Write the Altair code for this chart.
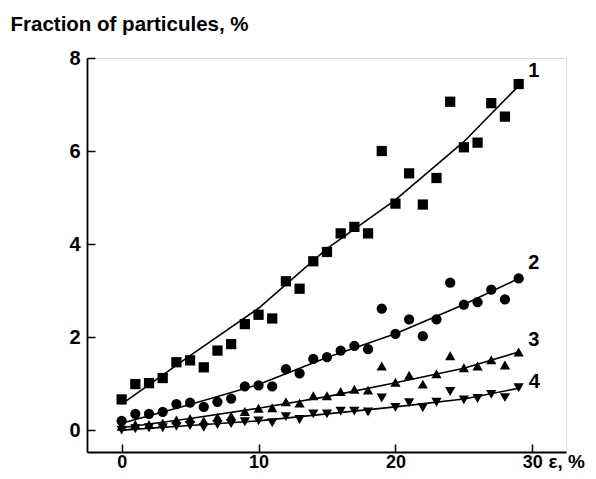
import altair as alt
import pandas as pd

# ---- data ----
eps = list(range(30))
s1 = [0.66, 0.99, 1.01, 1.12, 1.46, 1.50, 1.35, 1.71, 1.85, 2.28, 2.48, 2.40, 3.20, 3.04, 3.63,
      3.83, 4.23, 4.37, 4.23, 6.00, 4.87, 5.52, 4.85, 5.42, 7.06, 6.08, 6.18, 7.03, 6.74, 7.44]
s2 = [0.20, 0.35, 0.35, 0.39, 0.56, 0.59, 0.50, 0.61, 0.68, 0.94, 0.96, 0.94, 1.31, 1.22, 1.53,
      1.57, 1.71, 1.81, 1.74, 2.61, 2.07, 2.38, 2.02, 2.38, 3.17, 2.70, 2.75, 3.02, 2.81, 3.26]
s3 = [0.08, 0.12, 0.12, 0.15, 0.22, 0.25, 0.20, 0.28, 0.30, 0.40, 0.47, 0.48, 0.61, 0.58, 0.74,
      0.74, 0.83, 0.88, 0.86, 1.38, 1.03, 1.18, 0.99, 1.21, 1.60, 1.34, 1.38, 1.51, 1.40, 1.68]
s4 = [0.00, 0.03, 0.05, 0.05, 0.08, 0.10, 0.06, 0.12, 0.14, 0.18, 0.20, 0.16, 0.29, 0.23, 0.35,
      0.35, 0.41, 0.41, 0.39, 0.69, 0.49, 0.59, 0.48, 0.60, 0.83, 0.65, 0.68, 0.77, 0.70, 0.91]

fit_x = [0, 5, 10, 15, 20, 25, 29]
f1 = [0.56, 1.60, 2.62, 3.90, 4.95, 6.20, 7.40]
f2 = [0.15, 0.55, 0.98, 1.56, 2.07, 2.70, 3.26]
f3 = [0.05, 0.25, 0.47, 0.72, 1.02, 1.33, 1.68]
f4 = [0.00, 0.10, 0.20, 0.35, 0.50, 0.67, 0.90]

series_names = ["1", "2", "3", "4"]
label_x = [30.1, 30.1, 30.1, 30.15]
label_y = [7.72, 3.60, 1.93, 1.04]

x_ticks = [0, 10, 20, 30]
y_ticks = [0, 2, 4, 6, 8]
x_domain = [-2.53, 32.46]
y_domain = [-0.47, 8.0]

# ---- tables ----
pts = pd.DataFrame({
    "eps": eps * 4,
    "frac": s1 + s2 + s3 + s4,
    "series": sum([[n] * len(eps) for n in series_names], []),
})
fits = pd.DataFrame({
    "eps": fit_x * 4,
    "frac": f1 + f2 + f3 + f4,
    "series": sum([[n] * len(fit_x) for n in series_names], []),
})
labels = pd.DataFrame({"eps": label_x, "frac": label_y, "series": series_names})

W, H = 479, 394
FONT = "Liberation Sans"

xs = alt.Scale(domain=x_domain, nice=False, zero=False)
ys = alt.Scale(domain=y_domain, nice=False, zero=False)

# main axes: domain + labels, no ticks
x_main = alt.Axis(orient="bottom", values=x_ticks, ticks=False, grid=False, domain=True,
                  domainColor="black", domainWidth=1.8, labelPadding=1,
                  labelFont=FONT, labelFontSize=18, labelFontWeight="bold", labelColor="black",
                  title="ε, %", titleFont=FONT, titleFontSize=19, titleFontWeight="bold",
                  titleColor="black", titleAngle=0, titleAlign="left", titleBaseline="alphabetic",
                  titleX=461, titleY=15)
y_main = alt.Axis(orient="left", values=y_ticks, ticks=False, grid=False, domain=True,
                  domainColor="black", domainWidth=1.8, labelPadding=7,
                  labelFont=FONT, labelFontSize=20, labelFontWeight="bold", labelColor="black",
                  title="Fraction of particules, %", titleFont=FONT, titleFontSize=20.5,
                  titleFontWeight="bold", titleColor="black", titleAngle=0, titleAlign="left",
                  titleBaseline="alphabetic", titleX=-77, titleY=-28)

# tick-only axes pushed onto the plot edges so ticks point inward
x_ticks_ax = alt.Axis(orient="top", offset=-H, values=x_ticks, labels=False, domain=False,
                      grid=False, ticks=True, tickSize=8, tickColor="black", tickWidth=1.5, title=None)
y_ticks_ax = alt.Axis(orient="right", offset=-W, values=y_ticks, labels=False, domain=False,
                      grid=False, ticks=True, tickSize=8, tickColor="black", tickWidth=1.5, title=None)

shape_scale = alt.Scale(domain=series_names,
                        range=["square", "circle", "triangle-up", "triangle-down"])

points = alt.Chart(pts).mark_point(filled=True, opacity=1, color="black", size=105).encode(
    x=alt.X("eps:Q", scale=xs, axis=x_main),
    y=alt.Y("frac:Q", scale=ys, axis=y_main),
    shape=alt.Shape("series:N", scale=shape_scale, legend=None),
)

lines = alt.Chart(fits).mark_line(color="black", strokeWidth=1.6).encode(
    x=alt.X("eps:Q", scale=xs, axis=x_ticks_ax),
    y=alt.Y("frac:Q", scale=ys, axis=y_ticks_ax),
    detail="series:N",
)

texts = alt.Chart(labels).mark_text(font=FONT, fontSize=20, fontWeight="bold", color="black",
                                    align="center", baseline="middle").encode(
    x=alt.X("eps:Q", scale=xs, axis=None),
    y=alt.Y("frac:Q", scale=ys, axis=None),
    text="series:N",
)

# canvas 580 x 463 so the page (8px margins) fits the 596 x 479 window exactly
chart = alt.layer(points, lines, texts).resolve_axis(x="independent", y="independent").properties(
    width=W, height=H,
    autosize=alt.AutoSizeParams(type="none"),
    padding={"left": 79, "top": 50, "right": 22, "bottom": 19},
).configure_view(stroke=None).configure(background="white")

chart.save("out.html", embed_options={"renderer": "svg", "actions": False})
